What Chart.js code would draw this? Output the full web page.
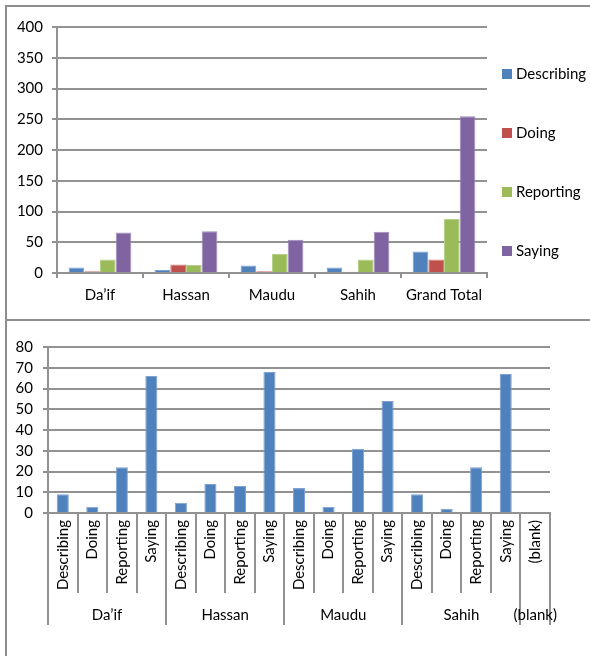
<!DOCTYPE html>
<html lang="en">
<head>
<meta charset="UTF-8">
<title>Process types by hadith grade</title>
<script src="https://cdn.jsdelivr.net/npm/chart.js@4.4.1/dist/chart.umd.min.js"></script>
<style>
  body { margin: 0; background: #fff; width: 590px; height: 656px; overflow: hidden; position: relative; }
  .box { position: absolute; border: 2px solid #8e8e8e; box-sizing: border-box; }
  #box1 { left: 5px; top: 5px; width: 620px; height: 316px; }
  #box2 { left: 5px; top: 319px; width: 620px; height: 400px; }
  canvas { position: absolute; left: 0; }
</style>
</head>
<body>
<div class="box" id="box1"></div>
<div class="box" id="box2"></div>
<canvas id="topChart" width="590" height="320" style="top:0"></canvas>
<canvas id="bottomChart" width="590" height="335" style="top:321px"></canvas>
<script>
// hadith grades and the process types counted in each
const grades = ['Da’if', 'Hassan', 'Maudu', 'Sahih'];
const processTypes = ['Describing', 'Doing', 'Reporting', 'Saying'];
const totalLabel = 'Grand Total';
const blankLabel = '(blank)';

// counts in the order Describing, Doing, Reporting, Saying
const daif = [9, 3, 22, 66];
const hassan = [5, 14, 13, 68];
const maudu = [12, 3, 31, 54];
const sahih = [9, 2, 22, 67];
const grandTotal = [35, 22, 88, 255];

const colors = ['#4F81BD', '#C0504D', '#9BBB59', '#8064A2'];
const edgeColors = ['#7fa2d2', '#d37d7b', '#b8d18a', '#a08cbc'];
const gridGray = '#929292';
const fontStack = 'Lato, "Open Sans", sans-serif';

Chart.defaults.font.family = fontStack;
Chart.defaults.color = '#000';
Chart.defaults.animation = false;

const byGrade = [daif, hassan, maudu, sahih, grandTotal];

// legend drawn as a column to the right of the plot
const sideLegend = {
  id: 'sideLegend',
  afterDraw(chart) {
    const ctx = chart.ctx;
    ctx.save();
    ctx.font = '15px ' + fontStack;
    ctx.textBaseline = 'middle';
    chart.data.datasets.forEach((ds, i) => {
      const y = 74 + i * 59;
      ctx.fillStyle = ds.backgroundColor;
      ctx.fillRect(502, y - 5, 10, 10);
      ctx.fillStyle = '#000';
      ctx.fillText(ds.label, 516, y);
    });
    ctx.restore();
  }
};

new Chart(document.getElementById('topChart'), {
  type: 'bar',
  data: {
    labels: grades.concat([totalLabel]),
    datasets: processTypes.map((t, i) => ({
      label: t,
      data: byGrade.map(g => g[i]),
      backgroundColor: colors[i],
      borderColor: edgeColors[i],
      borderWidth: 1,
      categoryPercentage: 0.73,
      barPercentage: 1
    }))
  },
  options: {
    responsive: false,
    devicePixelRatio: 1,
    layout: { padding: { top: 27, right: 103, left: 0, bottom: 0 } },
    plugins: { legend: { display: false }, tooltip: { enabled: false } },
    scales: {
      x: {
        afterFit(scale) { scale.height = 47; },
        grid: { offset: true, drawOnChartArea: false, color: gridGray, lineWidth: 2, tickLength: 5 },
        border: { color: gridGray, width: 2 },
        ticks: { font: { size: 15 }, padding: 8 }
      },
      y: {
        min: 0, max: 400,
        afterFit(scale) { scale.width = 57; },
        grid: { color: gridGray, lineWidth: 2, tickLength: 5 },
        border: { color: gridGray, width: 2 },
        ticks: { stepSize: 50, autoSkip: false, font: { size: 15 }, padding: 9 }
      }
    }
  },
  plugins: [sideLegend]
});

// second chart: every grade split into its process types, plus an empty (blank) slot
const groupLabels = grades.concat([blankLabel]);
const groupSizes = [4, 4, 4, 4, 1];
const flatLabels = grades.flatMap(() => processTypes).concat([blankLabel]);
const flatValues = daif.concat(hassan, maudu, sahih, [null]);

// two-level category axis: separators between labels and grade names underneath
const groupAxis = {
  id: 'groupAxis',
  afterDraw(chart) {
    const x = chart.scales.x;
    const ctx = chart.ctx;
    const top = chart.chartArea.bottom;
    const n = flatLabels.length;
    const step = (x.right - x.left) / n;
    const groupEdges = [0];
    groupSizes.forEach(s => groupEdges.push(groupEdges[groupEdges.length - 1] + s));
    ctx.save();
    ctx.strokeStyle = gridGray;
    ctx.lineWidth = 2;
    for (let i = 0; i <= n; i++) {
      const px = i < n ? x.getPixelForValue(i) - step / 2 : x.getPixelForValue(n - 1) + step / 2;
      const xx = Math.round(px);
      const len = groupEdges.includes(i) ? 112 : 80;
      ctx.beginPath();
      ctx.moveTo(xx, top);
      ctx.lineTo(xx, top + len);
      ctx.stroke();
    }
    ctx.font = '15px ' + fontStack;
    ctx.fillStyle = '#000';
    ctx.textAlign = 'center';
    ctx.textBaseline = 'middle';
    groupLabels.forEach((g, gi) => {
      const a = x.getPixelForValue(groupEdges[gi]);
      const b = x.getPixelForValue(groupEdges[gi + 1] - 1);
      ctx.fillText(g, (a + b) / 2, top + 102);
    });
    ctx.restore();
  }
};

new Chart(document.getElementById('bottomChart'), {
  type: 'bar',
  data: {
    labels: flatLabels,
    datasets: [{
      label: 'Count',
      data: flatValues,
      backgroundColor: colors[0],
      borderColor: edgeColors[0],
      borderWidth: 1,
      categoryPercentage: 0.41,
      barPercentage: 1
    }]
  },
  options: {
    responsive: false,
    devicePixelRatio: 1,
    layout: { padding: { top: 26, right: 40, left: 0, bottom: 0 } },
    plugins: { legend: { display: false }, tooltip: { enabled: false } },
    scales: {
      x: {
        afterFit(scale) { scale.height = 143; },
        grid: { display: true, drawOnChartArea: false, drawTicks: false },
        border: { color: gridGray, width: 2 },
        ticks: { autoSkip: false, minRotation: 90, maxRotation: 90, padding: 7, font: { size: 15 } }
      },
      y: {
        min: 0, max: 80,
        afterFit(scale) { scale.width = 48; },
        grid: { color: gridGray, lineWidth: 2, tickLength: 5 },
        border: { color: gridGray, width: 2 },
        ticks: { stepSize: 10, autoSkip: false, font: { size: 15 }, padding: 10 }
      }
    }
  },
  plugins: [groupAxis]
});
</script>
</body>
</html>
